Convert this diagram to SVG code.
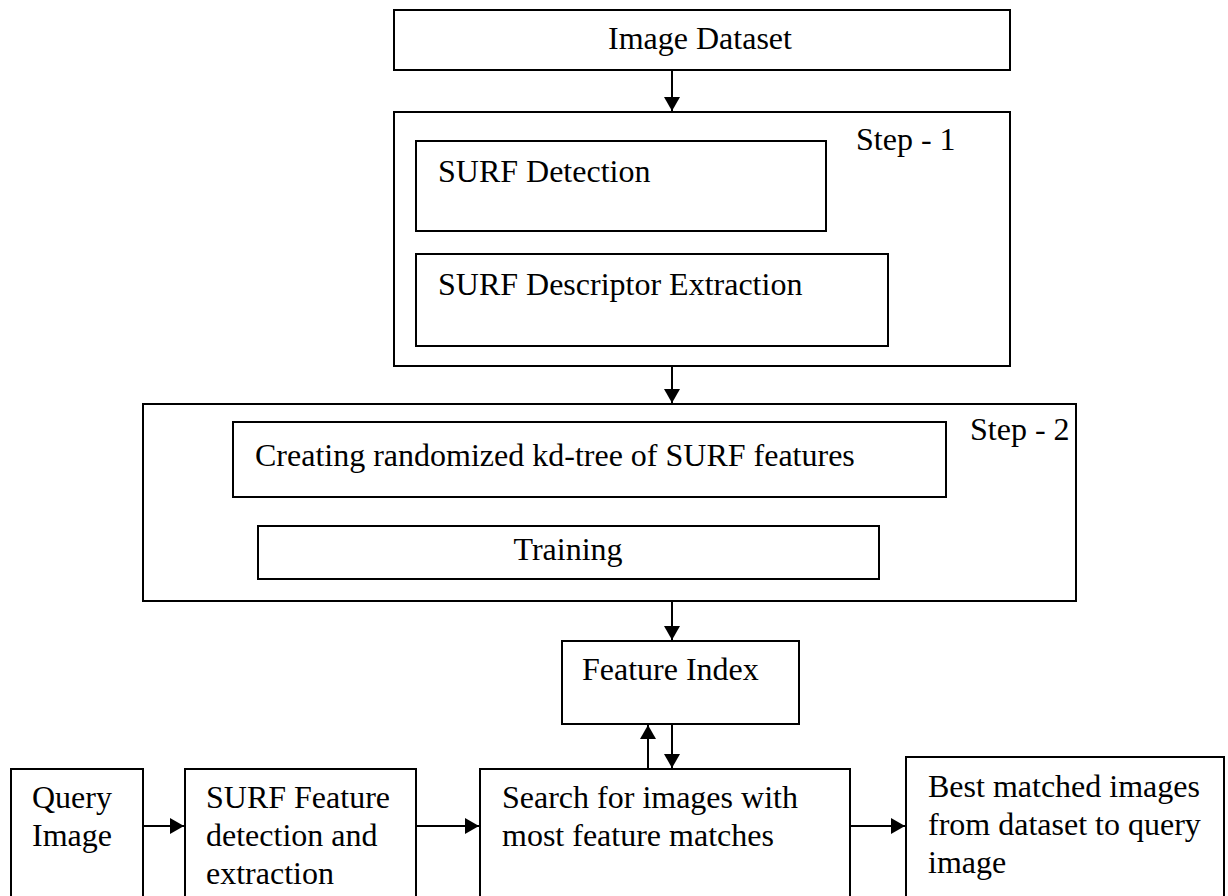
<svg xmlns="http://www.w3.org/2000/svg" width="1228" height="896" viewBox="0 0 1228 896">
<style>
.box{fill:#fff;stroke:#000;stroke-width:2}
.t{font-family:"Liberation Serif","Times New Roman",serif;font-size:32px;fill:#000}
.c{text-anchor:middle}
.ln{stroke:#000;stroke-width:2;fill:none}
</style>
<defs>
<marker id="ah" markerUnits="userSpaceOnUse" markerWidth="16" markerHeight="16" viewBox="0 0 14 16" refX="14" refY="8" orient="auto">
<path d="M0,0 L14,8 L0,16 Z" fill="#000"/>
</marker>
</defs>
<rect width="1228" height="896" fill="#fff"/>
<g id="image-dataset">
<rect class="box" x="394" y="10" width="616" height="60"/>
<text class="t c" x="700" y="49">Image Dataset</text>
</g>
<g id="step1">
<rect class="box" x="394" y="112" width="616" height="254"/>
<text class="t" x="856" y="150">Step - 1</text>
</g>
<g id="surf-detection">
<rect class="box" x="416" y="141" width="410" height="90"/>
<text class="t" x="438" y="182">SURF Detection</text>
</g>
<g id="surf-descriptor">
<rect class="box" x="416" y="254" width="472" height="92"/>
<text class="t" x="438" y="295">SURF Descriptor Extraction</text>
</g>
<g id="step2">
<rect class="box" x="143" y="404" width="933" height="197"/>
<text class="t" x="970" y="440">Step - 2</text>
</g>
<g id="kdtree">
<rect class="box" x="233" y="422" width="713" height="75"/>
<text class="t" x="255" y="466">Creating randomized kd-tree of SURF features</text>
</g>
<g id="training">
<rect class="box" x="258" y="526" width="621" height="53"/>
<text class="t c" x="568" y="560">Training</text>
</g>
<g id="feature-index">
<rect class="box" x="562" y="641" width="237" height="83"/>
<text class="t" x="582" y="680">Feature Index</text>
</g>
<g id="query-image">
<rect class="box" x="11" y="769" width="132" height="140"/>
<text class="t" x="32" y="808">Query</text>
<text class="t" x="32" y="846">Image</text>
</g>
<g id="surf-feature">
<rect class="box" x="185" y="769" width="231" height="140"/>
<text class="t" x="206" y="808">SURF Feature</text>
<text class="t" x="206" y="846">detection and</text>
<text class="t" x="206" y="884">extraction</text>
</g>
<g id="search">
<rect class="box" x="480" y="769" width="370" height="140"/>
<text class="t" x="502" y="808">Search for images with</text>
<text class="t" x="502" y="846">most feature matches</text>
</g>
<g id="best-matched">
<rect class="box" x="906" y="757" width="318" height="150"/>
<text class="t" x="928" y="797">Best matched images</text>
<text class="t" x="928" y="835">from dataset to query</text>
<text class="t" x="928" y="873">image</text>
</g>
<g id="connectors">
<line class="ln" x1="672" y1="70" x2="672" y2="111" marker-end="url(#ah)"/>
<line class="ln" x1="672" y1="366" x2="672" y2="403" marker-end="url(#ah)"/>
<line class="ln" x1="672" y1="601" x2="672" y2="640" marker-end="url(#ah)"/>
<line class="ln" x1="648" y1="768" x2="648" y2="725" marker-end="url(#ah)"/>
<line class="ln" x1="672" y1="724" x2="672" y2="768" marker-end="url(#ah)"/>
<line class="ln" x1="143" y1="826" x2="184" y2="826" marker-end="url(#ah)"/>
<line class="ln" x1="416" y1="826" x2="479" y2="826" marker-end="url(#ah)"/>
<line class="ln" x1="850" y1="826" x2="905" y2="826" marker-end="url(#ah)"/>
</g>
</svg>
